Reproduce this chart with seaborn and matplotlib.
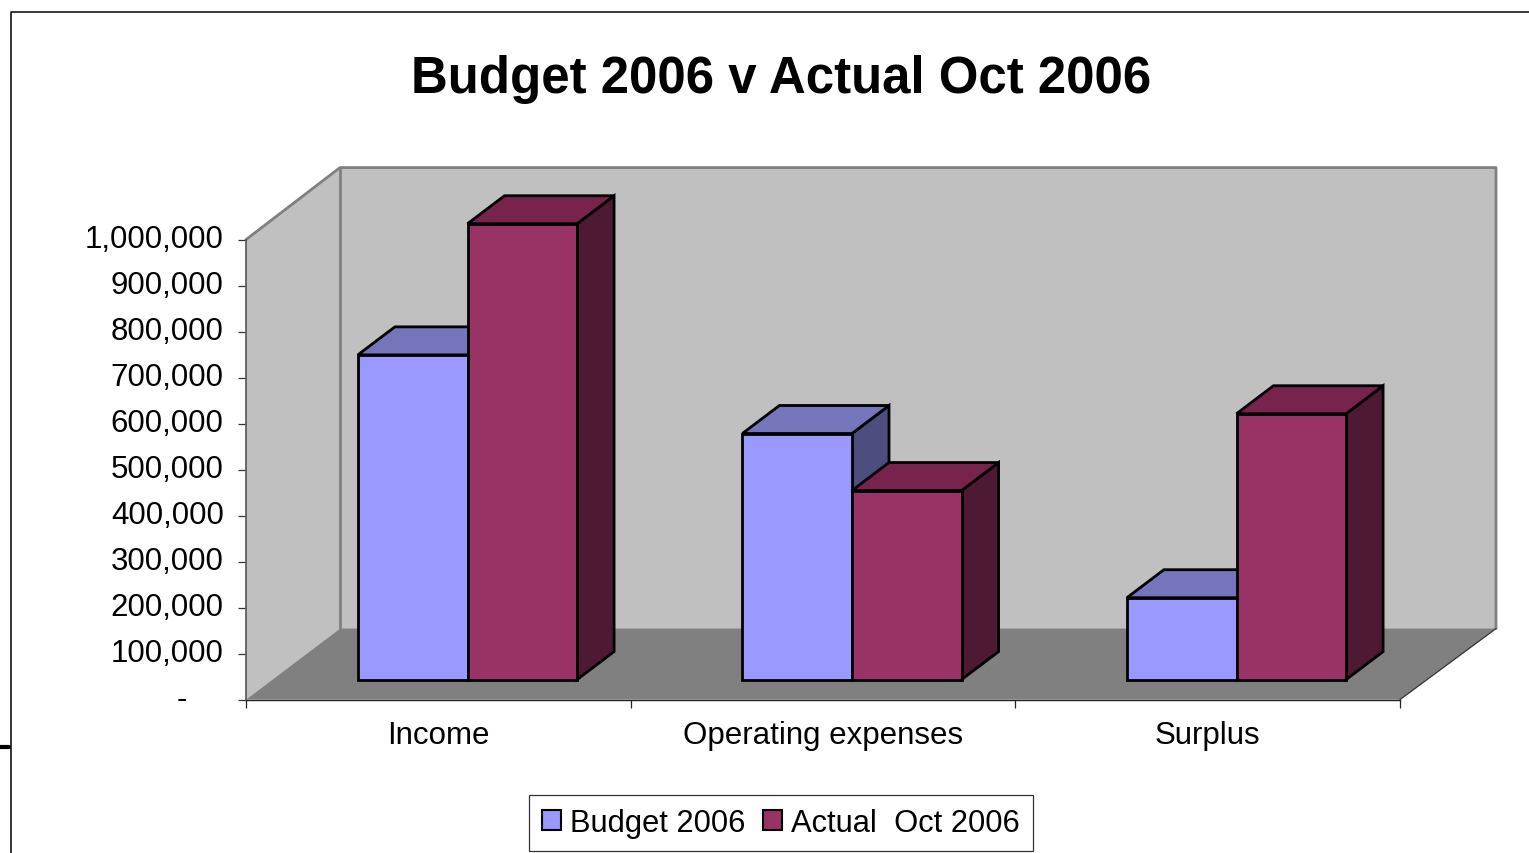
import matplotlib
matplotlib.use("Agg")
import matplotlib.pyplot as plt
from matplotlib.lines import Line2D
from matplotlib.patches import Polygon
from matplotlib.ticker import FuncFormatter
from matplotlib.transforms import ScaledTranslation
import pandas as pd
import seaborn as sns

categories = ["Income", "Operating expenses", "Surplus"]
series_names = ["Budget 2006", "Actual  Oct 2006"]
budget = [706000, 535000, 178000]
actual = [991000, 411000, 578000]
y_ticks = [0, 100000, 200000, 300000, 400000, 500000, 600000, 700000, 800000, 900000, 1000000]

W, H = 1529, 854
FONT = 22.5


def fxy(px, py):
    return px / W, 1 - (py + 0.6) / H


def fig_poly(fig, pts, color, edge=None, lw=0):
    fig.add_artist(Polygon([fxy(*p) for p in pts], closed=True, facecolor=color,
                           edgecolor=edge or color, linewidth=lw,
                           transform=fig.transFigure, zorder=-5))


def fig_line(fig, xs, ys, color="black", lw=1.0):
    pts = [fxy(x, y) for x, y in zip(xs, ys)]
    fig.add_artist(Line2D([p[0] for p in pts], [p[1] for p in pts], color=color, linewidth=lw,
                          transform=fig.transFigure, zorder=-4))


sns.set_theme(style="white")
plt.rcParams["font.family"] = ["Liberation Sans", "DejaVu Sans"]
plt.rcParams["text.color"] = "black"
plt.rcParams["xtick.labelcolor"] = "black"
plt.rcParams["ytick.labelcolor"] = "black"

df = pd.DataFrame({
    "category": categories * 2,
    "series": [series_names[0]] * 3 + [series_names[1]] * 3,
    "value": budget + actual,
})

fig = plt.figure(figsize=(W / 100, H / 100), dpi=100, facecolor="white")

# walls and floor of the fake 3d box
fig_poly(fig, [(340, 168), (1496, 168), (1496, 629), (340, 629)], "#C0C0C0")
fig_poly(fig, [(246, 240), (340, 168), (340, 629), (246, 700)], "#C0C0C0")
fig_poly(fig, [(246, 700), (340, 629), (1496, 629), (1400, 700)], "#808080")
fig_line(fig, [246, 340, 1496, 1496], [240, 168, 168, 629], "#808080", 2.0)
fig_line(fig, [340, 340], [168, 629], "#808080", 2.0)
fig_line(fig, [1400, 1496], [700, 629], "#333333", 0.9)

# page frame from the original slide
fig_line(fig, [10.5, 10.5, W], [H, 12.5, 12.5], "black", 1.1)
fig_line(fig, [0, 9], [747, 747], "black", 3.0)

# axis with the ticks, sits on the front edge of the box
x0, y0 = fxy(246, 700)
ax_ticks = fig.add_axes([x0, y0, 1154 / W, 460 / H], facecolor="none")
ax_ticks.set_xlim(0, 3)
ax_ticks.set_ylim(0, 1000000)
ax_ticks.set_yticks(y_ticks)
ax_ticks.yaxis.set_major_formatter(FuncFormatter(lambda v, p: "-" if v == 0 else f"{int(v):,}"))
ax_ticks.set_xticks([0, 1, 2, 3])
ax_ticks.set_xticklabels([])
ax_ticks.set_xticks([0.5, 1.5, 2.5], minor=True)
ax_ticks.set_xticklabels(categories, minor=True, fontsize=FONT)
ax_ticks.tick_params(axis="y", length=5.8, width=0.9, color="#333333", pad=10.3, labelsize=FONT, left=True)
ax_ticks.tick_params(axis="x", which="major", length=5.8, width=0.9, color="#222222", bottom=True)
ax_ticks.tick_params(axis="x", which="minor", length=0, pad=15)
for k, lab in enumerate(ax_ticks.get_yticklabels()):
    # labels sit a little above their ticks, the dash is pushed left like an accounting format
    nudge_x = -0.37 if k == 0 else 0
    lab.set_transform(lab.get_transform() + ScaledTranslation(nudge_x, 0.04, fig.dpi_scale_trans))
for side in ["top", "right"]:
    ax_ticks.spines[side].set_visible(False)
ax_ticks.spines["left"].set_color("#555555")
ax_ticks.spines["left"].set_linewidth(1.2)
ax_ticks.spines["bottom"].set_color("#222222")
ax_ticks.spines["bottom"].set_linewidth(1.0)

# bars live on a full figure axes, value 0 is at the bars' base line
ax = fig.add_axes([0, 0, 1, 1], facecolor="none")
sns.barplot(data=df, x="category", y="value", hue="series", order=categories,
            hue_order=series_names, palette=["#9999FF", "#993366"], saturation=1,
            width=0.57, gap=0, edgecolor="black", linewidth=2.0, ax=ax)

CAT_PX = 384.5
VAL_PX = 460 / 1000000
BASE_PY = 680.6
ax.set_xlim((0 - 467.5) / CAT_PX, (W - 467.5) / CAT_PX)
ax.set_ylim((BASE_PY - H) / VAL_PX, BASE_PY / VAL_PX)

depth_x = 37 / CAT_PX
depth_y = 28 / VAL_PX
top_colors = ["#7575BC", "#77234C"]
side_colors = ["#4D4D80", "#4D1933"]

for i, container in enumerate(ax.containers):
    z = 3 + i * 3
    for bar in container:
        bx = bar.get_x()
        bw = bar.get_width()
        bh = bar.get_height()
        bar.set_zorder(z + 2)
        side = [(bx + bw, 0), (bx + bw + depth_x, depth_y), (bx + bw + depth_x, bh + depth_y), (bx + bw, bh)]
        top = [(bx, bh), (bx + depth_x, bh + depth_y), (bx + bw + depth_x, bh + depth_y), (bx + bw, bh)]
        ax.add_patch(Polygon(side, closed=True, facecolor=side_colors[i], edgecolor="black", linewidth=2.0, zorder=z))
        ax.add_patch(Polygon(top, closed=True, facecolor=top_colors[i], edgecolor="black", linewidth=2.0, zorder=z + 1))

ax.axis("off")

handles, labels = ax.get_legend_handles_labels()
leg = ax.legend(handles, labels, loc="center", bbox_to_anchor=fxy(781, 823.5), bbox_transform=fig.transFigure,
                ncol=2, fontsize=22.2, frameon=True, fancybox=False, framealpha=1, edgecolor="#333333",
                handlelength=0.62, handleheight=0.62, handletextpad=0.3, columnspacing=0.55,
                borderpad=0.42, borderaxespad=0, labelcolor="black")
leg.get_frame().set_linewidth(0.9)
for h in leg.legend_handles:
    h.set_edgecolor("black")
    h.set_linewidth(1.5)

fig.text(781 / W, 1 - 79 / H, "Budget 2006 v Actual Oct 2006", ha="center", va="center",
         fontsize=36.7, fontweight="bold", color="black")

fig.savefig("out.png", dpi=100)
